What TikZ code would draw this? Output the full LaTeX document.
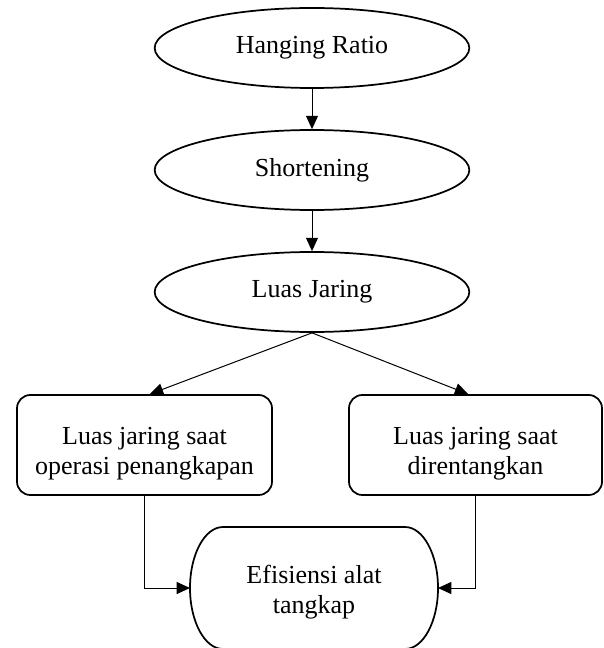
\documentclass[tikz,border=0pt]{standalone}
\usepackage{fontspec}
\setmainfont{Liberation Serif}
\usetikzlibrary{shapes.geometric,arrows.meta}
\tikzset{
  txt/.style={font=\fontsize{19.5pt}{22.5pt}\selectfont, align=center},
  oval/.style={txt, ellipse, draw, line width=1.3pt, minimum width=236pt, minimum height=60pt, inner sep=0pt},
  boxnode/.style={draw, line width=1.3pt, rounded corners=10pt, minimum height=75pt, inner sep=0pt},
  border/.style={draw, line width=1.3pt},
  arr/.style={line width=0.75pt, -{Triangle[length=10pt,width=9pt]}},
}
\begin{document}
\begin{tikzpicture}[x=0.75pt,y=-0.75pt]
\useasboundingbox (0,0) rectangle (603,648);
\node[oval] (hr) at (312,48) {Hanging Ratio};
\node[oval] (sh) at (312,170) {Shortening};
\node[oval] (lj) at (312,292) {Luas Jaring};
\node[boxnode, minimum width=191.25pt] (lb) at (144.5,445) {};
\node[txt] (lbt) at (144.5,454) {Luas jaring saat\\operasi penangkapan};
\node[boxnode, minimum width=189.75pt] (rb) at (475.5,445) {};
\node[txt] (rbt) at (475.5,454) {Luas jaring saat\\direntangkan};
\node[txt, minimum width=186pt, minimum height=91.5pt, inner sep=0pt, outer sep=0pt] (eff) at (314,588) {};
\node[txt] (efft) at (314,592) {Efisiensi alat\\tangkap};
\draw[border] ([xshift=24.75pt]eff.north west) -- ([xshift=-24.75pt]eff.north east)
  arc[start angle=90,end angle=-90,x radius=24.75pt,y radius=45.75pt]
  -- ([xshift=24.75pt]eff.south west)
  arc[start angle=270,end angle=90,x radius=24.75pt,y radius=45.75pt] -- cycle;
\draw[arr] (hr) -- (sh);
\draw[arr] (sh) -- (lj);
\draw[arr] (lj.south) -- ([xshift=4pt]lb.north);
\draw[arr] (lj.south) -- ([xshift=-5.5pt]rb.north);
\draw[arr] (lb.south) |- (eff.west);
\draw[arr] (rb.south) |- (eff.east);
\end{tikzpicture}
\end{document}
